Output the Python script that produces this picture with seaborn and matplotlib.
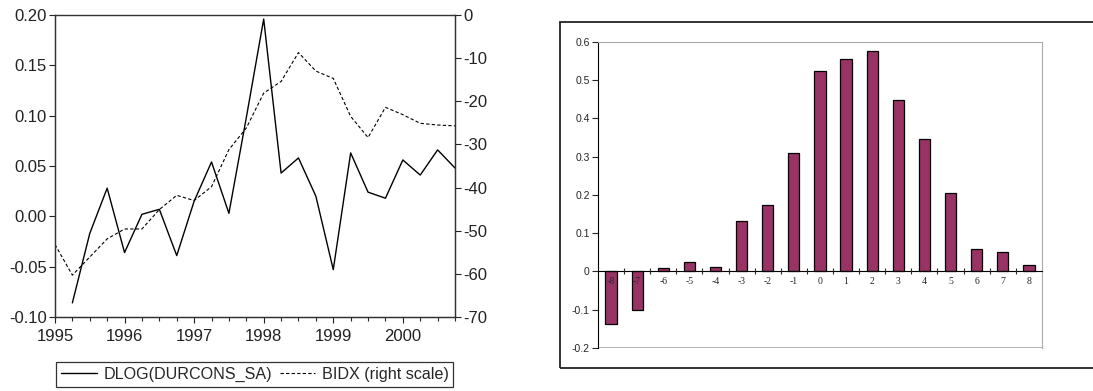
import numpy as np
import pandas as pd
import matplotlib
matplotlib.use("Agg")
import matplotlib.pyplot as plt
import seaborn as sns
from matplotlib.patches import Rectangle
from matplotlib.ticker import MultipleLocator, FuncFormatter

# Quarterly data 1995Q1 - 2000Q4
quarters = pd.period_range("1995Q1", "2000Q4", freq="Q")
dlog_durcons = [np.nan, -0.086, -0.017, 0.028, -0.036, 0.002, 0.007, -0.039,
                0.015, 0.054, 0.003, 0.098, 0.196, 0.043, 0.058, 0.020,
                -0.053, 0.063, 0.024, 0.018, 0.056, 0.041, 0.066, 0.048]
bidx = [-53.2, -60.3, -56.1, -51.9, -49.6, -49.6, -45.1, -41.8,
        -43.0, -39.8, -31.2, -26.2, -18.1, -15.4, -8.7, -13.0,
        -14.7, -23.5, -28.4, -21.4, -23.1, -25.1, -25.5, -25.7]

# Cross-correlations by lag
lags = ["-8", "-7", "-6", "-5", "-4", "-3", "-2", "-1", "0",
        "1", "2", "3", "4", "5", "6", "7", "8"]
corr = [-0.137, -0.101, 0.010, 0.024, 0.012, 0.133, 0.174, 0.309, 0.524,
        0.554, 0.576, 0.448, 0.345, 0.204, 0.059, 0.050, 0.016]

sns.set_style("white")
plt.rcParams["font.family"] = ["Liberation Sans", "DejaVu Sans"]
plt.rcParams["axes.unicode_minus"] = False

df = pd.DataFrame({
    "t": quarters.year + (quarters.quarter - 1) / 4.0,
    "dlog": dlog_durcons,
    "bidx": bidx,
})

fig = plt.figure(figsize=(10.93, 3.91), dpi=100)

# Left panel: time series with twin axis
ax = fig.add_axes([0.0503, 0.1893, 0.366, 0.7723])
sns.lineplot(data=df.dropna(subset=["dlog"]), x="t", y="dlog", ax=ax,
             color="black", lw=1.0, label="DLOG(DURCONS_SA)", legend=False)
ax2 = ax.twinx()
sns.lineplot(data=df, x="t", y="bidx", ax=ax2, color="black", lw=0.8,
             linestyle=(0, (3, 2)), label="BIDX (right scale)", legend=False)

ax.set_xlim(1995, 2000.75)
ax.set_ylim(-0.10, 0.20)
ax2.set_ylim(-70, 0)
ax.set_yticks(np.arange(-0.10, 0.201, 0.05))
ax.yaxis.set_major_formatter(FuncFormatter(lambda v, p: f"{v:.2f}"))
ax2.set_yticks(range(-70, 1, 10))
ax.set_xticks(range(1995, 2001))
ax.xaxis.set_minor_locator(MultipleLocator(0.25))
ax.set_xlabel("")
ax.set_ylabel("")
ax2.set_ylabel("")
for a in (ax, ax2):
    for s in a.spines.values():
        s.set_color("#333333")
        s.set_linewidth(0.9)
ax.spines["top"].set_color("#777777")
ax.tick_params(axis="both", which="major", direction="out", length=4,
               width=0.8, labelsize=12, colors="#222222", pad=2,
               left=True, bottom=True)
ax.tick_params(axis="x", which="major", pad=5)
ax.tick_params(axis="x", which="minor", direction="out", length=3,
               width=0.8, bottom=True)
ax2.tick_params(axis="y", direction="out", length=4, width=0.8,
                labelsize=12, colors="#222222", pad=2, right=True)

h1, l1 = ax.get_legend_handles_labels()
h2, l2 = ax2.get_legend_handles_labels()
leg = ax.legend(h1 + h2, l1 + l2, loc="upper center",
                bbox_to_anchor=(0.5, -0.15), ncol=2, frameon=True,
                fancybox=False, edgecolor="black", fontsize=11.6,
                handlelength=2.2, handletextpad=0.4, columnspacing=0.5,
                borderpad=0.3, borderaxespad=0)
leg.get_frame().set_linewidth(0.9)

# Right panel: bar chart of correlations
fig.patches.append(Rectangle((0.5124, 0.0588), 0.6, 0.8857,
                             transform=fig.transFigure, fill=False,
                             lw=1.3, ec="#222222"))
ax3 = fig.add_axes([0.5471, 0.110, 0.4062, 0.7833])
bar_df = pd.DataFrame({"lag": lags, "corr": corr})
sns.barplot(data=bar_df, x="lag", y="corr", order=lags, color="#993366",
            saturation=1, width=0.43, edgecolor="black", linewidth=0.9,
            ax=ax3)
ax3.set_xlim(-0.5, len(lags) - 0.5)
ax3.set_ylim(-0.2, 0.6)
ax3.set_yticks(np.round(np.arange(-0.2, 0.61, 0.1), 1))
ax3.yaxis.set_major_formatter(
    FuncFormatter(lambda v, p: "0" if abs(v) < 1e-9 else f"{v:.1f}"))
ax3.set_xlabel("")
ax3.set_ylabel("")
ax3.spines["bottom"].set_position(("data", 0))
ax3.spines["bottom"].set_color("black")
ax3.spines["bottom"].set_linewidth(0.8)
ax3.spines["left"].set_color("black")
ax3.spines["left"].set_linewidth(0.8)
for s in ("top", "right"):
    ax3.spines[s].set_color("#aaaaaa")
    ax3.spines[s].set_linewidth(0.8)
ax3.axhline(-0.2, color="#aaaaaa", lw=1.2, zorder=0.5)
ax3.set_xticks(np.arange(0.5, len(lags) - 1, 1.0), minor=True)
ax3.tick_params(axis="x", which="major", length=0, pad=4, labelsize=7,
                bottom=True)
for lbl in ax3.get_xticklabels():
    lbl.set_fontfamily(["Liberation Serif", "DejaVu Serif"])
ax3.tick_params(axis="x", which="minor", direction="inout", length=5,
                width=0.8, bottom=True)
ax3.tick_params(axis="y", direction="out", length=4, width=0.8,
                labelsize=7.5, pad=2, left=True)
ax3.xaxis.set_zorder(10)
ax3.spines["bottom"].set_zorder(10)

fig.savefig("out.png", dpi=100)
